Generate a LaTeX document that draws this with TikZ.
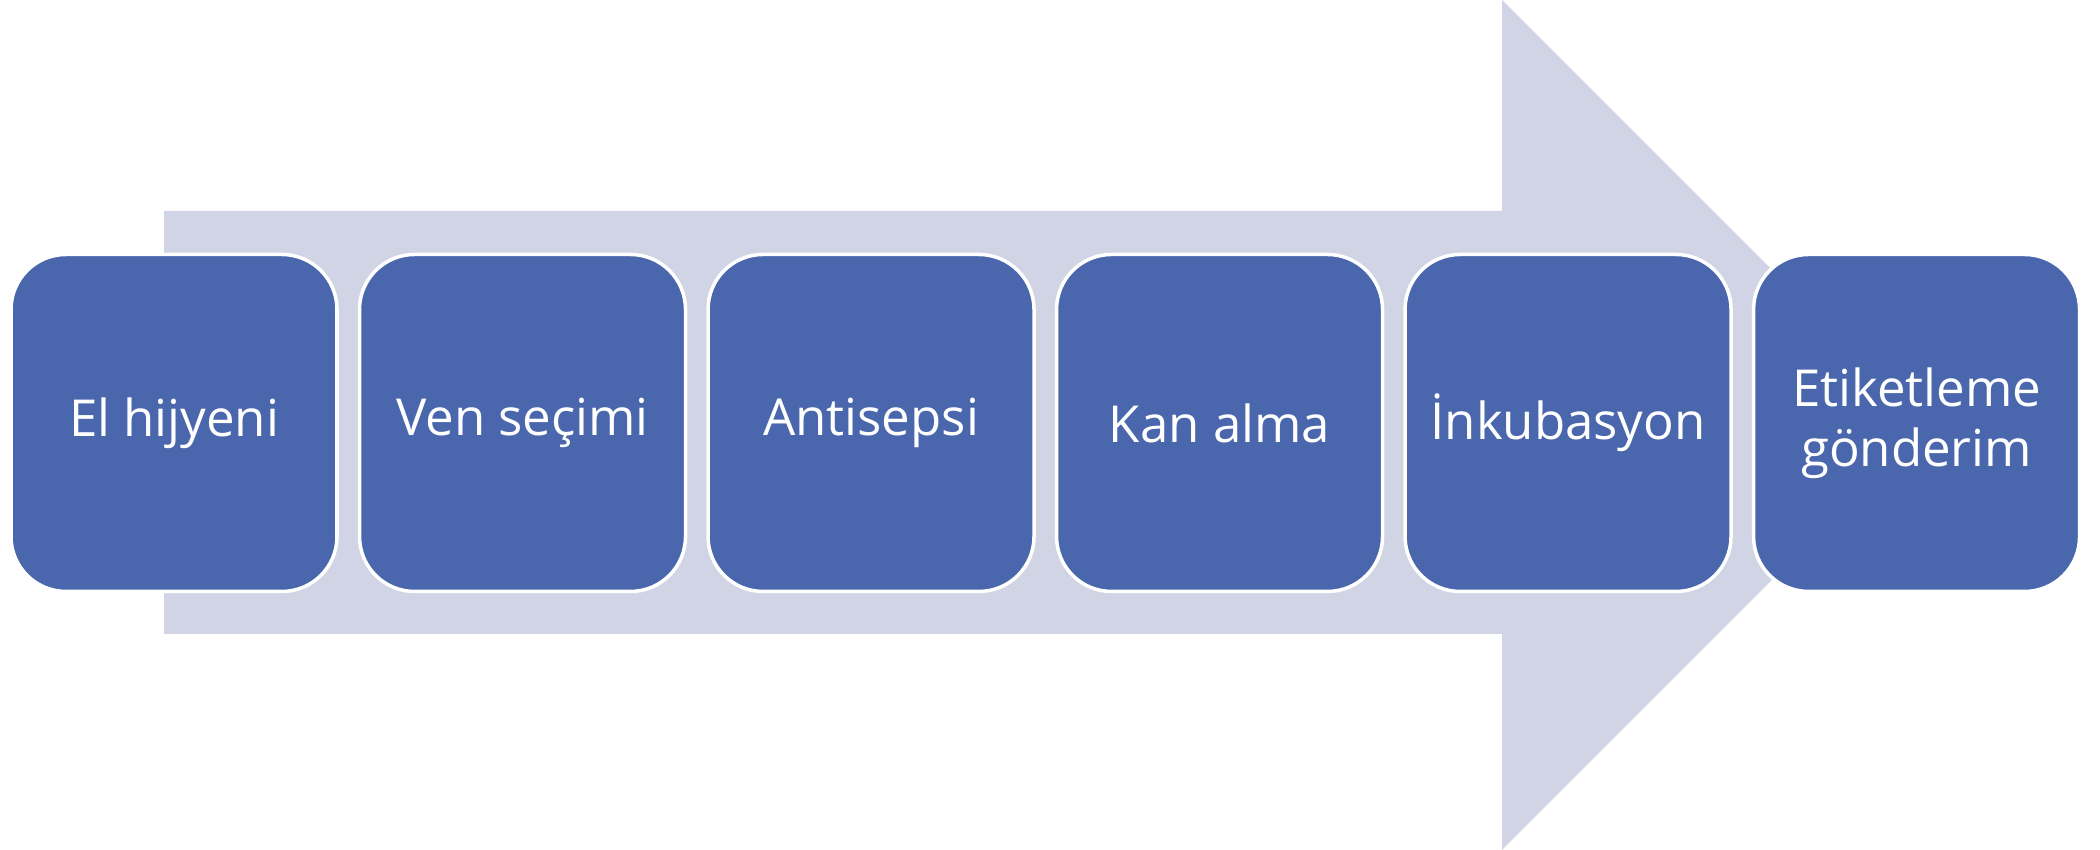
\documentclass[tikz,border=0pt]{standalone}
\usepackage{fontspec}
\setmainfont{Open Sans}
\usepackage{xcolor}
\usepackage{tikz}
\usetikzlibrary{positioning}
\definecolor{stepblue}{HTML}{4A66AC}
\definecolor{arrowgray}{HTML}{D0D4E5}

\begin{document}
\begin{tikzpicture}[font=\fontsize{14.5}{17}\selectfont,node distance=1.9mm,
  stepbox/.style={draw=white,line width=1pt,fill=stepblue,text=white,rounded corners=5.5mm,
    minimum width=3.26cm,minimum height=3.37cm,align=center}]
\useasboundingbox (0,0) rectangle (21,8.5);
% background arrow
\fill[arrowgray] (1.64,2.16) -- (15.02,2.16) -- (15.02,0) -- (19.27,4.25)
  -- (15.02,8.5) -- (15.02,6.39) -- (1.64,6.39) -- cycle;
\node[stepbox] (hand) at (1.74,4.27) {El hijyeni};
\node[stepbox,right=of hand] (vein) {Ven seçimi};
\node[stepbox,right=of vein] (asep) {Antisepsi};
\node[stepbox,right=of asep] (draw) {Kan alma};
\node[stepbox,right=of draw] (incub) {İnkubasyon};
\node[stepbox,right=of incub] (label) {Etiketleme\\gönderim};
\end{tikzpicture}
\end{document}
